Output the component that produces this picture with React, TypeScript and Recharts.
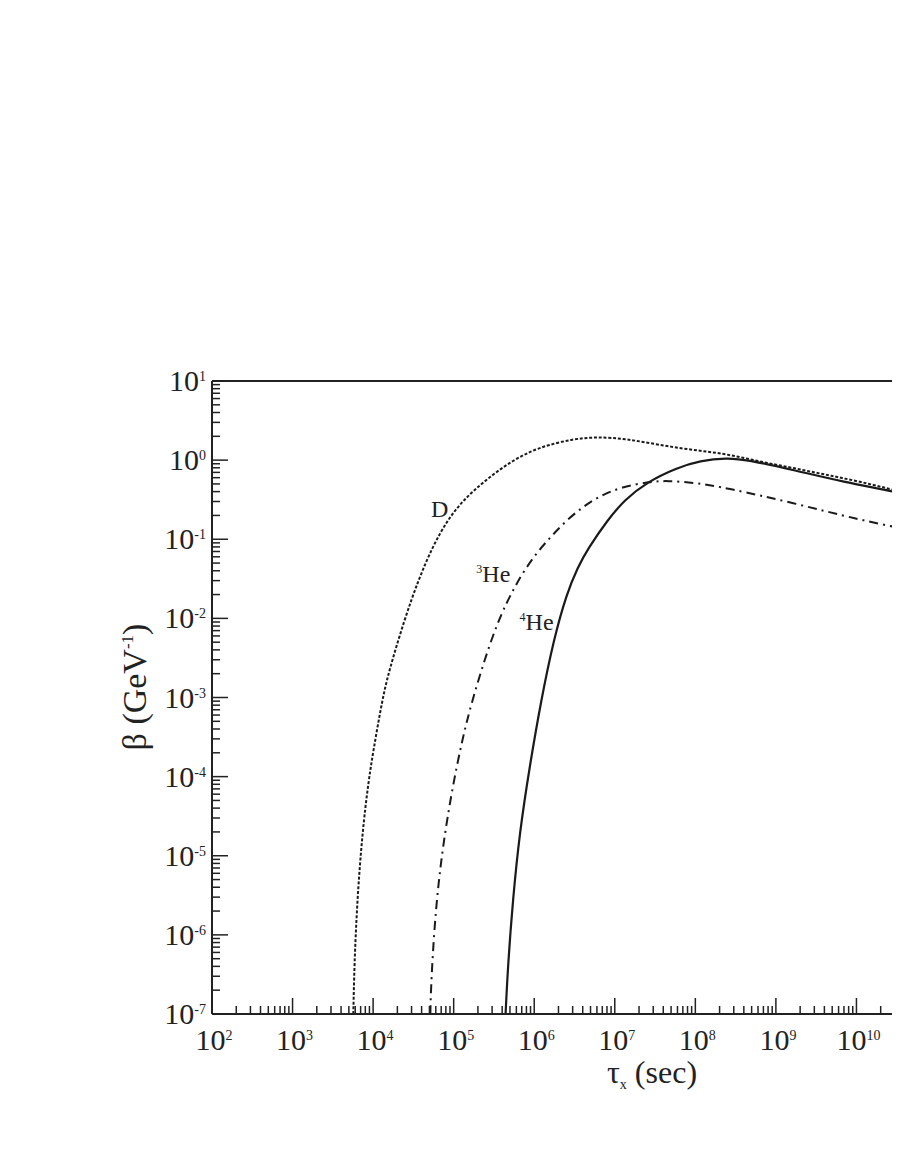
import { LineChart, Line, XAxis, YAxis, ReferenceLine, ReferenceDot, Label } from "recharts";

// tau_x (sec) and beta (GeV^-1)
const dTau = [5.68e3, 5.84e3, 6.35e3, 7.35e3, 8.71e3, 1.01e4, 1.3e4, 1.55e4, 2.44e4, 3.65e4, 5.45e4, 8.37e4, 1.32e5, 2.49e5, 5.38e5, 1.17e6, 3.01e6, 5.97e6, 1.41e7, 3.63e7, 9.33e7, 2.45e8, 6.35e8, 1.64e9, 4.3e9, 1.11e10, 3.19e10, 1e11];
const dBeta = [1e-7, 3.98e-7, 2.78e-6, 1.95e-5, 8.36e-5, 2.18e-4, 9.33e-4, 2.05e-3, 9.57e-3, 3.06e-2, 8.0e-2, 0.175, 0.314, 0.561, 1.0, 1.47, 1.85, 1.97, 1.86, 1.55, 1.34, 1.2, 0.957, 0.796, 0.65, 0.535, 0.411, 0.3];

const he3Tau = [5.14e4, 5.19e4, 5.69e4, 6.47e4, 7.57e4, 9.4e4, 1.25e5, 1.66e5, 2.71e5, 3.94e5, 5.24e5, 7.18e5, 1.07e6, 1.6e6, 2.46e6, 4.0e6, 6.5e6, 1.22e7, 2.72e7, 4.56e7, 9.89e7, 2.47e8, 1.64e9, 1.11e10, 3.51e10, 1e11];
const he3Beta = [1e-7, 1.86e-7, 1.06e-6, 4.55e-6, 1.59e-5, 6.24e-5, 2.67e-4, 8.55e-4, 4.36e-3, 1.17e-2, 2.1e-2, 3.76e-2, 6.71e-2, 0.107, 0.17, 0.256, 0.352, 0.458, 0.535, 0.55, 0.518, 0.445, 0.288, 0.175, 0.139, 0.11];

const he4Tau = [4.41e5, 4.71e5, 5.43e5, 6.58e5, 8.77e5, 1.22e6, 1.74e6, 2.52e6, 3.48e6, 4.62e6, 8.13e6, 1.32e7, 2.52e7, 5.9e7, 1.14e8, 2.47e8, 4.39e8, 1.64e9, 6.85e9, 3.21e10, 1e11];
const he4Beta = [1e-7, 4.0e-7, 2.78e-6, 1.95e-5, 1.34e-4, 9.33e-4, 5.35e-3, 2.04e-2, 4.47e-2, 7.55e-2, 0.175, 0.314, 0.53, 0.8, 0.985, 1.07, 1.01, 0.752, 0.53, 0.396, 0.3];

const xTicks: number[] = [];
for (let e = 2; e <= 10; e++) for (let m = 1; m <= 9; m++) xTicks.push(m * Math.pow(10, e));
const yTicks: number[] = [];
for (let e = -7; e <= 1; e++) for (let m = 1; m <= 9; m++) if (e < 1 || m === 1) yTicks.push(m * Math.pow(10, e));

const toPoints = (xs: number[], ys: number[]) => xs.map((x, i) => ({ x, y: ys[i] }));
const dData = toPoints(dTau, dBeta);
const he3Data = toPoints(he3Tau, he3Beta);
const he4Data = toPoints(he4Tau, he4Beta);

const FONT = "Liberation Serif, DejaVu Serif, serif";
const INK = "#222";
const txt = { fontFamily: FONT, fill: INK };

function decade(v: number) {
  const l = Math.log10(v);
  const e = Math.round(l);
  return { e, major: Math.abs(l - e) < 1e-6 };
}

function XTick(props: any) {
  const { x, y, payload } = props;
  const { e, major } = decade(payload.value);
  return (
    <g>
      <line x1={x} x2={x} y1={y} y2={y - (major ? 16 : 8)} stroke={INK} strokeWidth={1.5} />
      {major && (
        <text x={x + 2} y={y + 36} textAnchor="middle" fontSize={30} style={txt}>
          10<tspan dy={-10} fontSize={14}>{e}</tspan>
        </text>
      )}
    </g>
  );
}

function YTick(props: any) {
  const { x, y, payload } = props;
  const { e, major } = decade(payload.value);
  return (
    <g>
      <line x1={x} x2={x + (major ? 16 : 8)} y1={y} y2={y} stroke={INK} strokeWidth={1.5} />
      {major && (
        <text x={x - 6} y={y + 10} textAnchor="end" fontSize={30} style={txt}>
          10<tspan dy={-10} fontSize={14}>{e}</tspan>
        </text>
      )}
    </g>
  );
}

const curveLabel = (main: string, sup?: string) => (p: any) => (
  <text x={p.cx} y={p.cy} fontSize={24} style={txt}>
    {sup && <tspan fontSize={12} dy={-9}>{sup}</tspan>}
    <tspan dy={sup ? 9 : 0}>{main}</tspan>
  </text>
);

export default function App() {
  return (
    <div style={{ width: 892, overflow: "hidden" }}>
      <LineChart width={945} height={1100} margin={{ top: 373, right: 16, bottom: 14, left: 0 }}>
        <XAxis
          dataKey="x"
          type="number"
          scale="log"
          domain={[1e2, 1e11]}
          ticks={xTicks}
          interval={0}
          tickSize={0}
          tickMargin={0}
          tick={<XTick />}
          height={80}
          stroke={INK}
          strokeWidth={2}
          allowDataOverflow
        >
          <Label
            content={() => (
              <text x={599} y={1075} fontSize={32} style={txt}>
                τ<tspan fontSize={14} dy={6}>x</tspan>
                <tspan dy={-6}> (sec)</tspan>
              </text>
            )}
          />
        </XAxis>
        <YAxis
          dataKey="y"
          type="number"
          scale="log"
          domain={[1e-7, 1e1]}
          ticks={yTicks}
          interval={0}
          tickSize={0}
          tickMargin={0}
          tick={<YTick />}
          width={204}
          stroke={INK}
          strokeWidth={2}
          allowDataOverflow
        >
          <Label
            content={() => (
              <text x={138} y={679} transform="rotate(-90, 138, 679)" textAnchor="middle" fontSize={34} style={txt}>
                β (GeV<tspan fontSize={17} dy={-13}>-1</tspan>
                <tspan dy={13}>)</tspan>
              </text>
            )}
          />
        </YAxis>
        <ReferenceLine y={1e1} stroke={INK} strokeWidth={2} />
        <ReferenceLine x={1e11} stroke={INK} strokeWidth={2} />
        <Line data={dData} dataKey="y" type="basis" stroke="#1a1a1a" strokeWidth={2} strokeDasharray="3 1.8" dot={false} isAnimationActive={false} />
        <Line data={he3Data} dataKey="y" type="basis" stroke="#1a1a1a" strokeWidth={2} strokeDasharray="9 5 2 5" dot={false} isAnimationActive={false} />
        <Line data={he4Data} dataKey="y" type="basis" stroke="#1a1a1a" strokeWidth={2.2} dot={false} isAnimationActive={false} />
        <ReferenceDot x={5.25e4} y={0.193} r={0} shape={curveLabel("D")} />
        <ReferenceDot x={1.91e5} y={2.92e-2} r={0} shape={curveLabel("He", "3")} />
        <ReferenceDot x={6.58e5} y={7.14e-3} r={0} shape={curveLabel("He", "4")} />
      </LineChart>
    </div>
  );
}
